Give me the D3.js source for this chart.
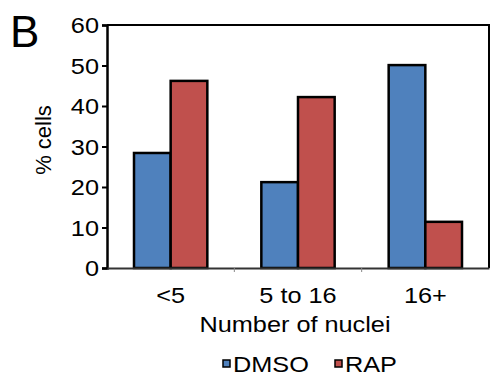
<!DOCTYPE html>
<html>
<head>
<meta charset="utf-8">
<script src="https://cdn.jsdelivr.net/npm/d3@7"></script>
<style>
  body { margin: 0; background: #fff; }
  text { font-family: "Liberation Sans", Arial, sans-serif; fill: #000; }
</style>
</head>
<body>
<svg id="chart" width="490" height="377"></svg>
<script>
// data
var categories = ['<5', '5 to 16', '16+'];
var seriesNames = ['DMSO', 'RAP'];
var dmso = [28.4, 21.2, 50.1];
var rap = [46.2, 42.2, 11.4];
var yTicks = [0, 10, 20, 30, 40, 50, 60];

var colors = { DMSO: '#4F81BD', RAP: '#C0504D' };
var stretch = 'scale(1.15,1)'; // figure text is a bit wide

var svg = d3.select('#chart');
var margin = { top: 25, right: 1, bottom: 109, left: 107 };
var width = 490 - margin.left - margin.right,
    height = 377 - margin.top - margin.bottom;

var g = svg.append('g').attr('transform', 'translate(' + margin.left + ',' + margin.top + ')');

var x = d3.scaleBand().domain(categories).range([0, width]);
var xInner = d3.scaleBand().domain(seriesNames).range([27, x.bandwidth() - 27]);
var y = d3.scaleLinear().domain([0, 60]).range([height, 0]);

var rows = categories.map(function(c, i) {
    return { cat: c, values: [{ key: 'DMSO', v: dmso[i] }, { key: 'RAP', v: rap[i] }] };
});

// frame (top and right)
g.append('path')
    .attr('d', 'M0,0H' + width + 'V' + height)
    .attr('fill', 'none')
    .attr('stroke', '#000')
    .attr('stroke-width', 2);

// bars
var groups = g.selectAll('g.cat')
    .data(rows)
    .enter().append('g')
    .attr('class', 'cat')
    .attr('transform', function(d) { return 'translate(' + x(d.cat) + ',0)'; });

groups.selectAll('rect')
    .data(function(d) { return d.values; })
    .enter().append('rect')
    .attr('x', function(d) { return xInner(d.key); })
    .attr('width', xInner.bandwidth())
    .attr('y', function(d) { return y(d.v); })
    .attr('height', function(d) { return height - y(d.v); })
    .attr('fill', function(d) { return colors[d.key]; })
    .attr('stroke', '#000')
    .attr('stroke-width', 2.5);

// y axis
var yAxis = g.append('g')
    .call(d3.axisLeft(y).tickValues(yTicks).tickSize(5).tickPadding(2));
yAxis.select('.domain').attr('stroke', '#000').attr('stroke-width', 2.5);
yAxis.selectAll('.tick line').attr('stroke', '#000').attr('stroke-width', 2);
yAxis.selectAll('.tick text')
    .style('font-size', '22px')
    .attr('dy', '0.36em')
    .attr('transform', stretch);

// x axis
var xAxis = g.append('g')
    .attr('transform', 'translate(0,' + height + ')')
    .call(d3.axisBottom(x).tickSize(0).tickPadding(19));
xAxis.select('.domain').attr('stroke', '#333').attr('stroke-width', 2);
xAxis.selectAll('.tick text')
    .style('font-size', '22px')
    .attr('dy', '0.71em')
    .attr('transform', stretch);

// category dividers below the axis
g.selectAll('line.div')
    .data(categories.slice(1))
    .enter().append('line')
    .attr('class', 'div')
    .attr('x1', function(d) { return x(d); })
    .attr('x2', function(d) { return x(d); })
    .attr('y1', height)
    .attr('y2', height + 4)
    .attr('stroke', '#888')
    .attr('stroke-width', 1);

// axis titles
svg.append('text')
    .attr('transform', 'translate(51,140) rotate(-90)')
    .attr('text-anchor', 'middle')
    .style('font-size', '22px')
    .text('% cells');

svg.append('text')
    .attr('transform', 'translate(295,332) ' + stretch)
    .attr('text-anchor', 'middle')
    .style('font-size', '22px')
    .text('Number of nuclei');

// panel letter
svg.append('text')
    .attr('x', 10)
    .attr('y', 47)
    .style('font-size', '44px')
    .text('B');

// legend
var legend = svg.append('g').attr('transform', 'translate(223,364)');
var items = legend.selectAll('g')
    .data(seriesNames)
    .enter().append('g')
    .attr('transform', function(d, i) { return 'translate(' + (i * 112) + ',0)'; });
items.append('rect')
    .attr('x', 0).attr('y', -4)
    .attr('width', 7).attr('height', 7)
    .attr('fill', function(d) { return colors[d]; })
    .attr('stroke', '#000')
    .attr('stroke-width', 1.5);
items.append('text')
    .attr('transform', 'translate(10,8) ' + stretch)
    .style('font-size', '22px')
    .text(function(d) { return d; });
</script>
</body>
</html>
